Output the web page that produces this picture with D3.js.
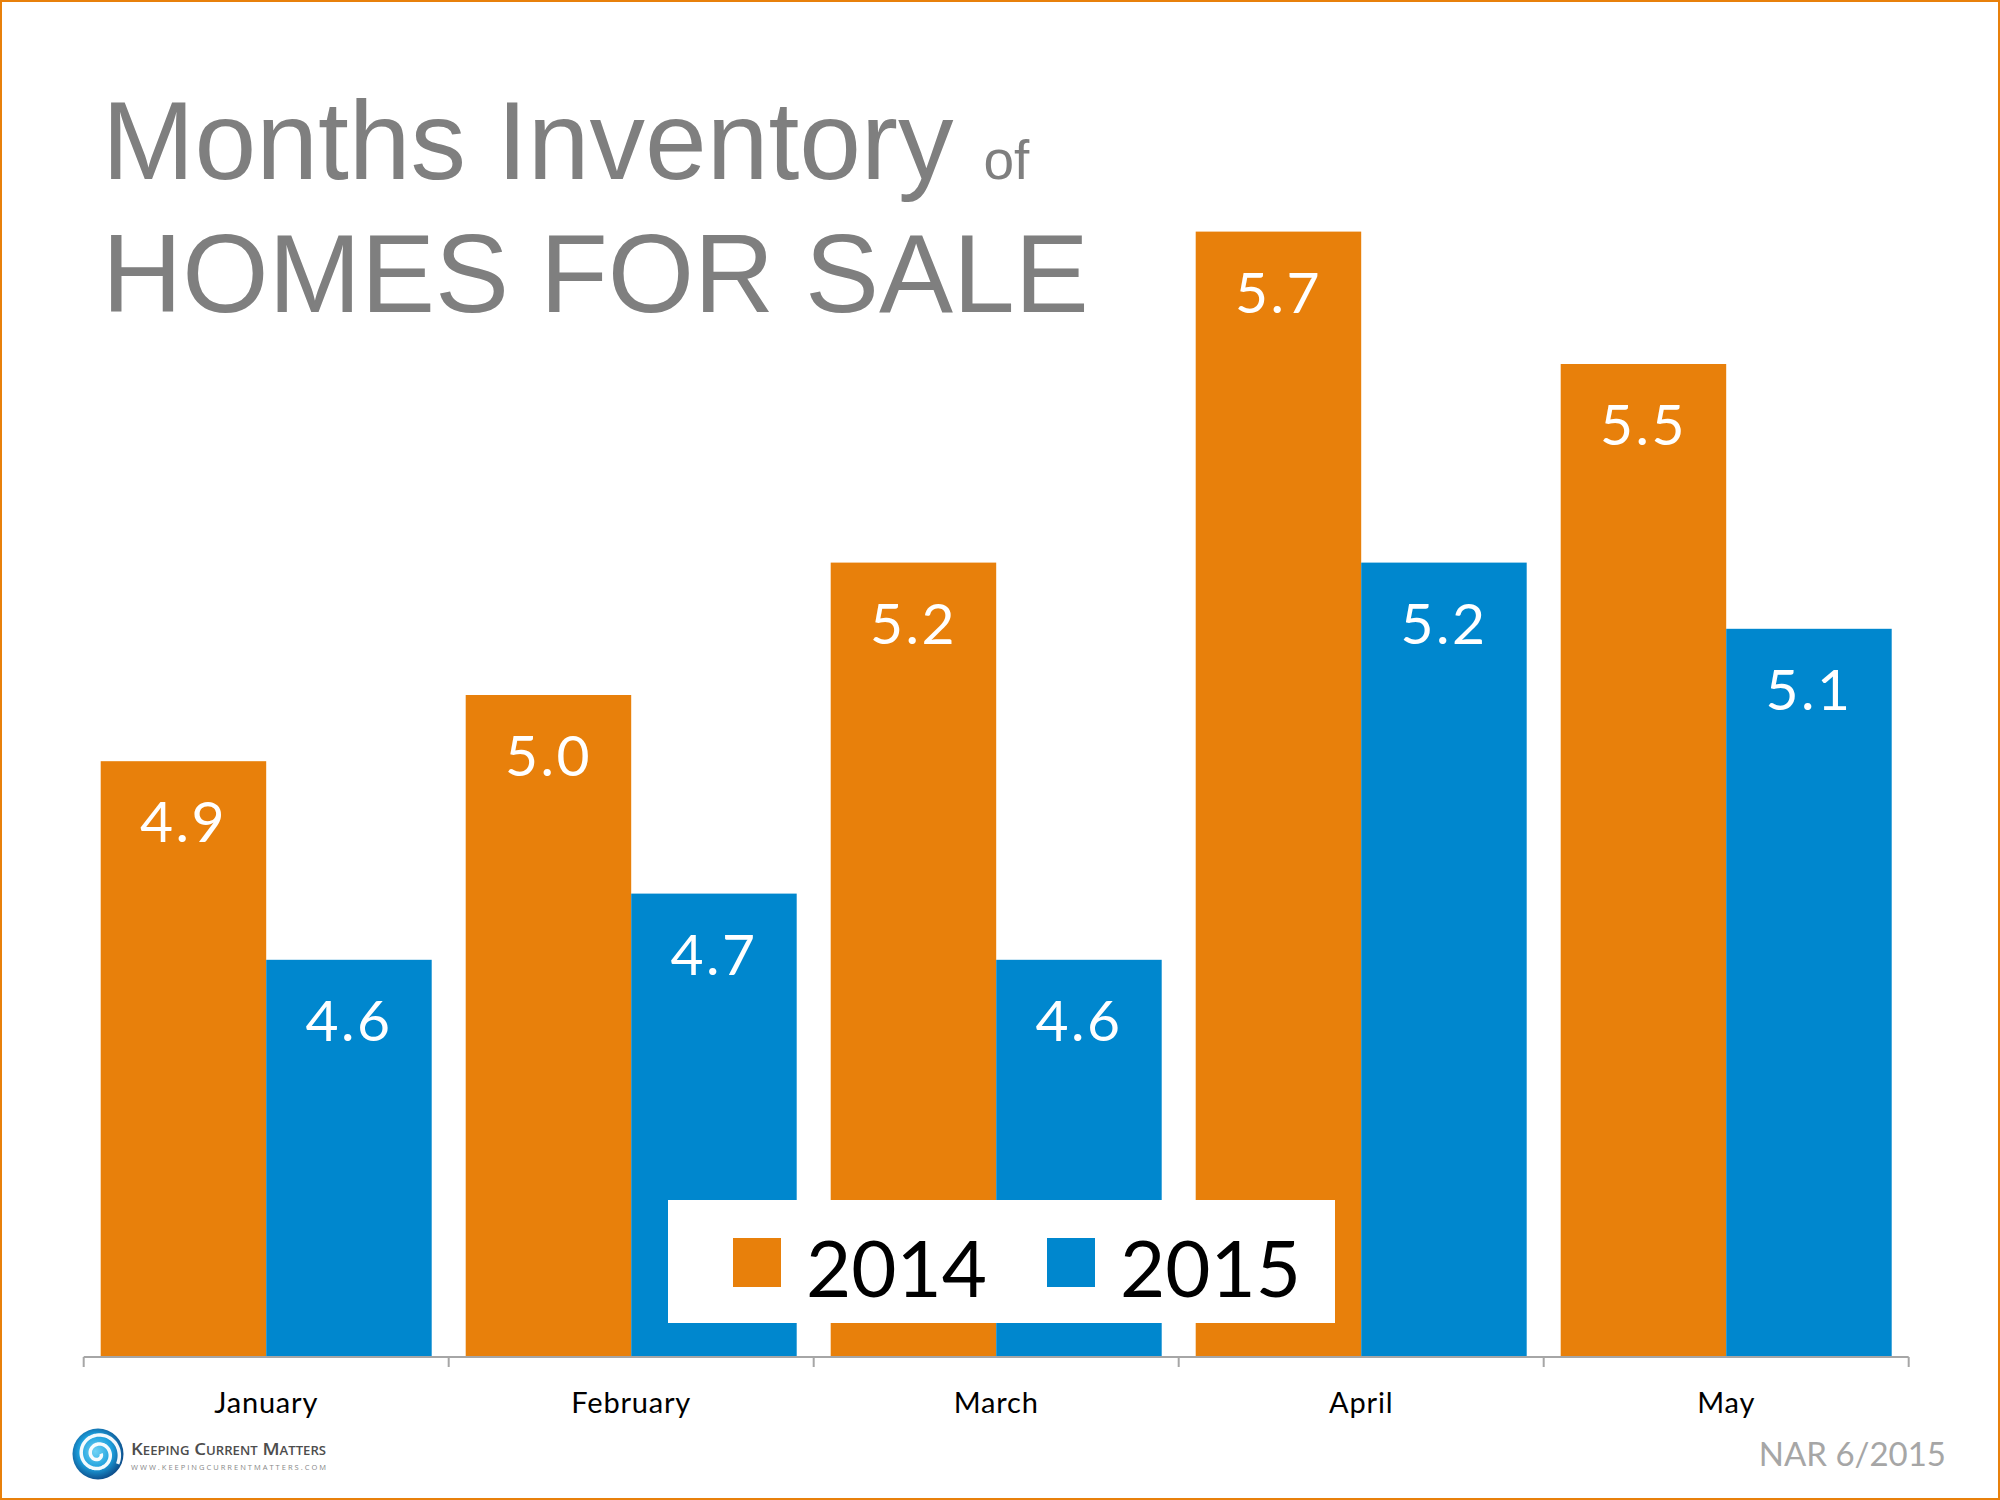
<!DOCTYPE html>
<html>
<head>
<meta charset="utf-8">
<script src="https://cdn.jsdelivr.net/npm/d3@7"></script>
<style>
  html, body { margin: 0; padding: 0; background: #fff; }
  svg { display: block; }
</style>
</head>
<body>
<div id="chart"></div>
<script>
// ---- data ----
const categories = ["January", "February", "March", "April", "May"];
const seriesNames = ["2014", "2015"];
const values2014 = [4.9, 5.0, 5.2, 5.7, 5.5];
const values2015 = [4.6, 4.7, 4.6, 5.2, 5.1];
const seriesColors = ["#E8800B", "#0087CE"];
const yDomain = [4, 6];

const W = 2000, H = 1500;
const svg = d3.select("#chart").append("svg").attr("width", W).attr("height", H);

// border
svg.append("rect").attr("x", 1).attr("y", 1).attr("width", W - 2).attr("height", H - 2)
  .attr("fill", "#fff").attr("stroke", "#E8800B").attr("stroke-width", 2);

// title
const title = svg.append("text").attr("font-family", "'Liberation Sans', Arial, sans-serif")
  .attr("fill", "#7f7f7f");
title.append("tspan").attr("x", 102).attr("y", 179).attr("font-size", 111).text("Months Inventory");
title.append("tspan").attr("dx", 30).attr("font-size", 55).text("of");
svg.append("text").attr("font-family", "'Liberation Sans', Arial, sans-serif")
  .attr("fill", "#7f7f7f").attr("x", 102).attr("y", 312).attr("font-size", 111).text("HOMES FOR SALE");

// scales
const baseY = 1357;
const x0 = d3.scaleBand().domain(categories).range([83.7, 1908.7]).padding(0);
const x1 = d3.scaleBand().domain(seriesNames).range([17, x0.bandwidth() - 17]).padding(0);
const y = d3.scaleLinear().domain(yDomain).range([baseY, baseY - 2 * 662]);

const table = categories.map((c, i) => ({ cat: c, vals: [values2014[i], values2015[i]] }));

const groups = svg.append("g").selectAll("g").data(table).join("g")
  .attr("transform", d => `translate(${x0(d.cat)},0)`);

groups.selectAll("rect").data(d => d.vals.map((v, j) => ({ s: seriesNames[j], v, j })))
  .join("rect")
  .attr("x", d => x1(d.s))
  .attr("y", d => y(d.v))
  .attr("width", x1.bandwidth())
  .attr("height", d => baseY - y(d.v))
  .attr("fill", d => seriesColors[d.j]);

groups.selectAll("text.val").data(d => d.vals.map((v, j) => ({ s: seriesNames[j], v, j })))
  .join("text").attr("class", "val")
  .attr("x", d => x1(d.s) + x1.bandwidth() / 2)
  .attr("y", d => y(d.v) + 81)
  .attr("text-anchor", "middle")
  .attr("font-family", "Lato, 'Open Sans', sans-serif")
  .attr("font-size", 57)
  .attr("letter-spacing", 2.5)
  .attr("fill", "#fff")
  .text(d => d3.format(".1f")(d.v));

// axis
const axisG = svg.append("g").attr("transform", `translate(0,${baseY})`);
axisG.call(d3.axisBottom(x0).tickSize(0).tickPadding(0));
axisG.select(".domain").remove();
axisG.selectAll(".tick text")
  .attr("y", 56)
  .attr("dy", 0)
  .attr("font-family", "Lato, 'Open Sans', sans-serif")
  .attr("font-size", 29)
  .attr("letter-spacing", 0.8)
  .attr("fill", "#000");
const xr = x0.range();
axisG.append("line").attr("x1", xr[0]).attr("x2", xr[1]).attr("y1", 0).attr("y2", 0)
  .attr("stroke", "#a6a6a6").attr("stroke-width", 2);
const bounds = categories.map(c => x0(c)).concat([xr[1]]);
axisG.selectAll("line.tk").data(bounds).join("line").attr("class", "tk")
  .attr("x1", d => d).attr("x2", d => d).attr("y1", 0).attr("y2", 10)
  .attr("stroke", "#a6a6a6").attr("stroke-width", 2);

// legend
const leg = svg.append("g");
leg.append("rect").attr("x", 668).attr("y", 1200).attr("width", 667).attr("height", 123).attr("fill", "#fff");
const legX = [733, 1047];
seriesNames.forEach((s, i) => {
  leg.append("rect").attr("x", legX[i]).attr("y", 1238).attr("width", 48).attr("height", 49)
    .attr("fill", seriesColors[i]);
  leg.append("text").attr("x", legX[i] + 73).attr("y", 1297)
    .attr("font-family", "Lato, 'Open Sans', sans-serif").attr("font-size", 78)
    .attr("fill", "#000").text(s);
});

// source
svg.append("text").attr("x", 1946).attr("y", 1466).attr("text-anchor", "end")
  .attr("font-family", "Lato, 'Open Sans', sans-serif").attr("font-size", 33)
  .attr("fill", "#a6a6a6").text("NAR 6/2015");

// logo
const defs = svg.append("defs");
const grad = defs.append("radialGradient").attr("id", "lg").attr("cx", "45%").attr("cy", "45%").attr("r", "60%");
grad.append("stop").attr("offset", "0%").attr("stop-color", "#6fd3f5");
grad.append("stop").attr("offset", "55%").attr("stop-color", "#1c9fdc");
grad.append("stop").attr("offset", "100%").attr("stop-color", "#0b3f7c");
const logo = svg.append("g").attr("transform", "translate(98,1454)");
logo.append("circle").attr("r", 25.5).attr("fill", "url(#lg)");
const spiral = d3.range(0, 4.2 * Math.PI, 0.1).map(t => [t + 1.5, 3 + t * 1.45]);
logo.append("path").attr("d", d3.lineRadial().curve(d3.curveBasis)(spiral))
  .attr("fill", "none").attr("stroke", "#fff").attr("stroke-width", 3.5).attr("opacity", 0.95);
svg.append("text").attr("x", 131).attr("y", 1455)
  .attr("font-family", "'Open Sans', sans-serif").attr("font-size", 17)
  .attr("font-weight", 600).attr("fill", "#4d4d4d")
  .style("font-variant", "small-caps")
  .attr("textLength", 195).attr("lengthAdjust", "spacingAndGlyphs")
  .text("Keeping Current Matters");
svg.append("text").attr("x", 131).attr("y", 1470)
  .attr("font-family", "'Open Sans', sans-serif").attr("font-size", 7.5)
  .attr("fill", "#888").attr("textLength", 195).attr("lengthAdjust", "spacing")
  .text("WWW.KEEPINGCURRENTMATTERS.COM");
</script>
</body>
</html>
